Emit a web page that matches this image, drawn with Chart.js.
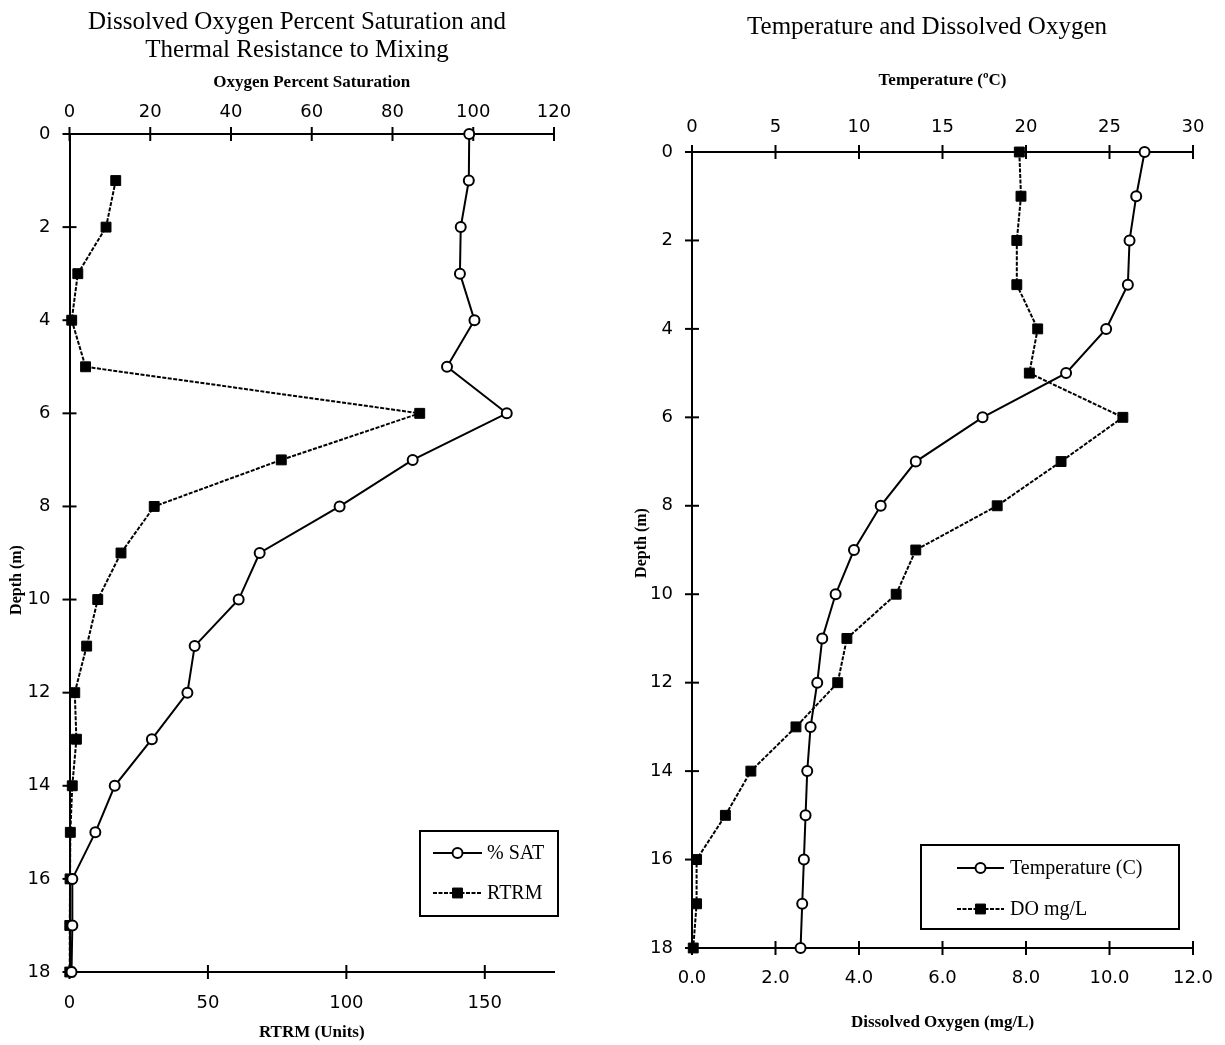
<!DOCTYPE html>
<html>
<head>
<meta charset="utf-8">
<title>Dissolved Oxygen profiles</title>
<script src="https://cdn.jsdelivr.net/npm/chart.js@4.4.1/dist/chart.umd.min.js"></script>
<style>
  html, body { margin: 0; padding: 0; background: #fff; }
  body { width: 1225px; height: 1045px; position: relative; overflow: hidden; }
  .panel { position: absolute; top: 0; height: 1045px; }
  #leftPanel { left: 0; width: 600px; }
  #rightPanel { left: 600px; width: 625px; }
</style>
</head>
<body>
<div class="panel" id="leftPanel"><canvas id="satChart"></canvas></div>
<div class="panel" id="rightPanel"><canvas id="tempChart"></canvas></div>
<script>
// ===== DATA =====
const depths = [0, 1, 2, 3, 4, 5, 6, 7, 8, 9, 10, 11, 12, 13, 14, 15, 16, 17, 18];

const satValues  = [99.0, 98.9, 96.9, 96.7, 100.3, 93.5, 108.3, 85.0, 66.9, 47.1, 41.9, 31.0, 29.2, 20.4, 11.2, 6.4, 0.7, 0.7, 0.5];
const rtrmValues = [null, 16.7, 13.2, 3.0, 0.8, 5.8, 126.5, 76.5, 30.6, 18.6, 10.2, 6.2, 1.9, 2.5, 1.0, 0.3, 0.2, 0.1, 0.1];

const tempValues = [27.1, 26.6, 26.2, 26.1, 24.8, 22.4, 17.4, 13.4, 11.3, 9.7, 8.6, 7.8, 7.5, 7.1, 6.9, 6.8, 6.7, 6.6, 6.5];
const doValues   = [7.84, 7.88, 7.78, 7.78, 8.28, 8.08, 10.32, 8.84, 7.31, 5.36, 4.89, 3.71, 3.49, 2.49, 1.41, 0.80, 0.11, 0.11, 0.03];

const depthTicks = [0, 2, 4, 6, 8, 10, 12, 14, 16, 18];
const satTicks   = [0, 20, 40, 60, 80, 100, 120];
const rtrmTicks  = [0, 50, 100, 150];
const tempTicks  = [0, 5, 10, 15, 20, 25, 30];
const doTicks    = [0, 2, 4, 6, 8, 10, 12];

const SERIF = "'Liberation Serif', 'Times New Roman', serif";
Chart.defaults.font.family = "'DejaVu Sans', Arial, sans-serif";
Chart.defaults.color = '#000';

function profile(values) {
  return depths.map((d, i) => ({ x: values[i], y: d })).filter(p => p.x !== null);
}

// one axis; size = thickness of the axis box so the plot area lands where the original has it
function axis(o) {
  return {
    type: 'linear',
    position: o.position,
    min: o.min,
    max: o.max,
    reverse: !!o.reverse,
    afterBuildTicks: s => { s.ticks = o.values.map(v => ({ value: v })); },
    afterFit: s => {
      if (s.isHorizontal()) {
        s.height = o.size;
        s.paddingLeft = 0;   // let layout.padding alone decide the plot edges
        s.paddingRight = 0;
      } else {
        s.width = o.size;
      }
    },
    grid: { display: false, drawTicks: false },
    border: { display: true, color: '#000', width: 2 },
    ticks: {
      color: '#000',
      padding: o.pad,
      font: { size: 18 },
      autoSkip: false,
      maxRotation: 0,
      callback: o.format || (v => v)
    },
    title: o.title
      ? { display: true, text: o.title, color: '#000', font: { family: SERIF, size: 17, weight: 'bold' }, padding: o.titlePad }
      : { display: false }
  };
}

// tick marks that cross the axis line
const crossTicks = {
  id: 'crossTicks',
  beforeDatasetsDraw(chart) {
    const { ctx, chartArea } = chart;
    ctx.save();
    ctx.strokeStyle = '#000';
    ctx.lineWidth = 2;
    Object.values(chart.scales).forEach(s => {
      s.ticks.forEach(t => {
        const p = s.getPixelForValue(t.value);
        ctx.beginPath();
        if (s.isHorizontal()) {
          const y = s.position === 'top' ? chartArea.top : chartArea.bottom;
          ctx.moveTo(p, y - 7);
          ctx.lineTo(p, y + 7);
        } else {
          ctx.moveTo(chartArea.left - 7, p);
          ctx.lineTo(chartArea.left + 7, p);
        }
        ctx.stroke();
      });
    });
    ctx.restore();
  }
};

// chart title, rotated depth label and the boxed legend
const decor = {
  id: 'decor',
  afterDraw(chart, args, opts) {
    const ctx = chart.ctx;
    ctx.save();
    ctx.fillStyle = '#000';
    ctx.textAlign = 'center';
    ctx.textBaseline = 'middle';
    ctx.font = '25px ' + SERIF;
    opts.title.forEach((line, i) => ctx.fillText(line, opts.titleX, opts.titleY + i * 28));

    ctx.save();
    ctx.translate(opts.depthX, opts.depthY);
    ctx.rotate(-Math.PI / 2);
    ctx.font = 'bold 16px ' + SERIF;
    ctx.fillText('Depth (m)', 0, 0);
    ctx.restore();

    const lg = opts.legend;
    ctx.lineWidth = 2;
    ctx.strokeStyle = '#000';
    ctx.strokeRect(lg.x, lg.y, lg.w, lg.h);
    ctx.textAlign = 'left';
    ctx.font = '20px ' + SERIF;
    chart.data.datasets.forEach((ds, i) => {
      const y = lg.rowY[i];
      ctx.save();
      ctx.lineWidth = ds.borderWidth;
      ctx.setLineDash(ds.borderDash || []);
      ctx.beginPath();
      ctx.moveTo(lg.lineX0, y);
      ctx.lineTo(lg.lineX1, y);
      ctx.stroke();
      ctx.restore();
      ctx.save();
      ctx.fillStyle = ds.pointBackgroundColor;
      ctx.strokeStyle = ds.pointBorderColor;
      ctx.lineWidth = ds.pointBorderWidth;
      Chart.helpers.drawPoint(ctx, { pointStyle: ds.pointStyle, radius: ds.pointRadius, borderWidth: ds.pointBorderWidth, rotation: 0 },
        (lg.lineX0 + lg.lineX1) / 2, y);
      ctx.restore();
      ctx.fillText(ds.label, lg.textX, y + 1);
    });
    ctx.restore();
  }
};

function solidCircles(label, data, axisId) {
  return {
    label, data, xAxisID: axisId, showLine: true, clip: false,
    borderColor: '#000', borderWidth: 2,
    pointStyle: 'circle', pointRadius: 5, pointBackgroundColor: '#fff',
    pointBorderColor: '#000', pointBorderWidth: 2
  };
}

function dashedSquares(label, data, axisId) {
  return {
    label, data, xAxisID: axisId, showLine: true, clip: false,
    borderColor: '#000', borderWidth: 2, borderDash: [4, 1.5],
    pointStyle: 'rect', pointRadius: 7, pointBackgroundColor: '#000',
    pointBorderColor: '#000', pointBorderWidth: 1
  };
}

const common = {
  responsive: true,
  maintainAspectRatio: false,
  animation: false,
  events: []
};

// ===== LEFT: % saturation and RTRM =====
new Chart(document.getElementById('satChart'), {
  type: 'scatter',
  data: {
    datasets: [
      solidCircles('% SAT', profile(satValues), 'xSat'),
      dashedSquares('RTRM', profile(rtrmValues), 'xRtrm')
    ]
  },
  options: {
    ...common,
    layout: { padding: { left: 0, right: 46, top: 0, bottom: 0 } },
    scales: {
      y: axis({ position: 'left', min: 0, max: 18, reverse: true, values: depthTicks, size: 69.5, pad: 19 }),
      xSat: axis({ position: 'top', min: 0, max: 120, values: satTicks, size: 134, pad: 11,
        title: 'Oxygen Percent Saturation', titlePad: { top: 72, bottom: 0 } }),
      xRtrm: axis({ position: 'bottom', min: 0, max: 175, values: rtrmTicks, size: 73, pad: 21,
        title: 'RTRM (Units)', titlePad: { top: 0, bottom: 2 } })
    },
    plugins: {
      legend: { display: false },
      tooltip: { enabled: false },
      decor: {
        title: ['Dissolved Oxygen Percent Saturation and', 'Thermal Resistance to Mixing'],
        titleX: 297, titleY: 22,
        depthX: 17, depthY: 580,
        legend: { x: 420, y: 831, w: 138, h: 85, rowY: [853, 893], lineX0: 433, lineX1: 482, textX: 487 }
      }
    }
  },
  plugins: [crossTicks, decor]
});

// ===== RIGHT: temperature and dissolved oxygen =====
new Chart(document.getElementById('tempChart'), {
  type: 'scatter',
  data: {
    datasets: [
      solidCircles('Temperature (C)', profile(tempValues), 'xTemp'),
      dashedSquares('DO mg/L', profile(doValues), 'xDo')
    ]
  },
  options: {
    ...common,
    layout: { padding: { left: 0, right: 32, top: 0, bottom: 0 } },
    scales: {
      y: axis({ position: 'left', min: 0, max: 18, reverse: true, values: depthTicks, size: 92, pad: 19 }),
      xTemp: axis({ position: 'top', min: 0, max: 30, values: tempTicks, size: 152, pad: 14,
        title: 'Temperature (ºC)', titlePad: { top: 70, bottom: 0 } }),
      xDo: axis({ position: 'bottom', min: 0, max: 12, values: doTicks, size: 97, pad: 20,
        format: v => v.toFixed(1),
        title: 'Dissolved Oxygen (mg/L)', titlePad: { top: 0, bottom: 12 } })
    },
    plugins: {
      legend: { display: false },
      tooltip: { enabled: false },
      decor: {
        title: ['Temperature and Dissolved Oxygen'],
        titleX: 327, titleY: 27,
        depthX: 42, depthY: 543,
        legend: { x: 321, y: 845, w: 258, h: 84, rowY: [868, 909], lineX0: 357, lineX1: 404, textX: 410 }
      }
    }
  },
  plugins: [crossTicks, decor]
});
</script>
</body>
</html>
